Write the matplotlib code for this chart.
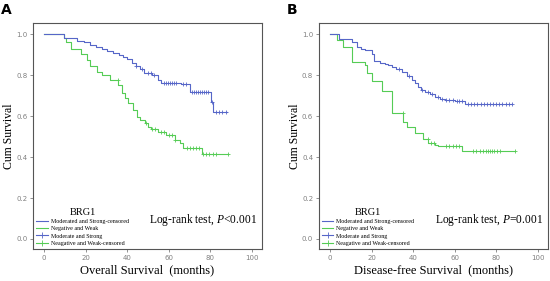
import numpy as np
import matplotlib
matplotlib.use("agg")
import matplotlib.pyplot as plt
from matplotlib.lines import Line2D

plt.rcParams["mathtext.fontset"] = "custom"
plt.rcParams["mathtext.rm"] = "Liberation Serif"
plt.rcParams["mathtext.it"] = "Liberation Serif:italic"

# ---- data (months, cumulative survival) ----
# panel A, overall survival
os_hi_t = [9.5, 16, 19, 22, 25, 28, 30, 33, 36, 38, 40, 42, 44, 46, 48, 52, 54.8, 56.4, 66, 70, 80.1, 81.3]
os_hi_s = [0.982, 0.967, 0.96, 0.95, 0.94, 0.93, 0.92, 0.91, 0.90, 0.89, 0.88, 0.86, 0.845, 0.83,
           0.81, 0.80, 0.776, 0.763, 0.755, 0.72, 0.67, 0.618]
os_hi_end = 88
os_hi_cens = [44, 47, 50, 51.5, 53, 57.5, 58.5, 59.5, 60.5, 61.5, 62.5, 63.5, 67, 68, 71, 72, 73,
              74, 75, 76, 77, 78, 79, 80.6, 82.5, 84, 85.5, 87.5]

os_lo_t = [9.5, 10.3, 12.7, 17.6, 20.4, 22, 25.2, 27.6, 31.6, 35.6, 37.2, 38.8, 40.4, 42.8, 44.7,
           46, 48.4, 50, 51.6, 54.8, 58.8, 62.8, 65.2, 66.8, 75.7]
os_lo_s = [0.98, 0.963, 0.93, 0.905, 0.873, 0.845, 0.816, 0.80, 0.776, 0.751, 0.711, 0.687, 0.663,
           0.63, 0.597, 0.58, 0.565, 0.548, 0.535, 0.523, 0.507, 0.483, 0.467, 0.442, 0.413]
os_lo_end = 88.5
os_lo_cens = [35.5, 49, 52, 53.5, 56, 57.5, 60, 61.5, 63, 68.5, 70, 71.5, 73, 74.5, 76.5, 78, 79.5,
              81, 82.5, 88.5]

# panel B, disease-free survival
dfs_hi_t = [4.3, 10.4, 12.8, 15, 16.8, 20, 21.3, 24, 26.5, 28, 29.7, 32, 34.5, 37, 39.3, 41, 42.5,
            44, 45.7, 48, 50.6, 53, 55.4, 60.2, 65]
dfs_hi_s = [0.979, 0.962, 0.938, 0.93, 0.922, 0.905, 0.868, 0.862, 0.857, 0.848, 0.84, 0.828, 0.816,
            0.795, 0.776, 0.76, 0.743, 0.73, 0.718, 0.706, 0.694, 0.686, 0.678, 0.672, 0.657]
dfs_hi_end = 87.8
dfs_hi_cens = [33, 38, 44.5, 47, 49, 52, 54, 56, 57.5, 59, 61, 62, 63.5, 66.5, 68, 69.5, 71, 72.5,
               74, 75.5, 77, 78.5, 80, 81.5, 83, 84.5, 86, 87.8]

dfs_lo_t = [3.2, 6.4, 10.4, 16.8, 17.6, 20, 24.9, 29.7, 35.3, 36.9, 40.9, 44.9, 47.3, 50.6, 52.1, 63.4]
dfs_lo_s = [0.97, 0.938, 0.865, 0.85, 0.81, 0.77, 0.722, 0.613, 0.572, 0.548, 0.516, 0.486, 0.467,
            0.459, 0.454, 0.429]
dfs_lo_end = 89.2
dfs_lo_cens = [35, 47, 48.5, 50, 56, 57.5, 59, 60.5, 62, 69, 70.5, 72, 73.5, 75, 76, 77, 78, 79,
               80.5, 82, 89.2]

panel_letters = ["A", "B"]
xlabels = ["Overall Survival  (months)", "Disease-free Survival  (months)"]
pvals = ["<0.001", "=0.001"]
legend_labels = ["Moderated and Strong-censored", "Negative and Weak",
                 "Moderate and Strong", "Neagative and Weak-censored"]

BLUE = "#5666c8"
GREEN = "#55cc55"
SERIF = "Liberation Serif"


def km(ax, t, s, end, cens, color):
    tt = np.r_[0, t, end]
    ss = np.r_[1.0, s, s[-1]]
    ax.step(tt, ss, where="post", color=color, lw=0.8)
    idx = np.searchsorted(tt, cens, side="right") - 1
    ax.plot(cens, ss[idx], ls="none", marker="+", ms=3, mew=0.6, color=color)


fig = plt.figure(figsize=(5.5, 2.81), dpi=100)
lefts = [0.06, 0.5795]
data = [(os_hi_t, os_hi_s, os_hi_end, os_hi_cens, os_lo_t, os_lo_s, os_lo_end, os_lo_cens),
        (dfs_hi_t, dfs_hi_s, dfs_hi_end, dfs_hi_cens, dfs_lo_t, dfs_lo_s, dfs_lo_end, dfs_lo_cens)]

for i in range(2):
    ax = fig.add_axes([lefts[i], 0.114, 0.416, 0.804])
    ht, hs, he, hc, lt, ls_, le, lc = data[i]
    km(ax, lt, ls_, le, lc, GREEN)
    km(ax, ht, hs, he, hc, BLUE)

    ax.set_xlim(-5.4, 104.7)
    ax.set_ylim(-0.049, 1.055)
    ax.set_xticks(np.arange(0, 101, 20))
    ax.set_yticks(np.arange(0, 1.01, 0.2))
    ax.yaxis.set_major_formatter(matplotlib.ticker.FormatStrFormatter("%.1f"))
    ax.tick_params(labelsize=5, colors="#808080", length=2, width=0.6, pad=2)
    for sp in ax.spines.values():
        sp.set_color("#555555")
        sp.set_linewidth(0.8)

    ax.set_xlabel(xlabels[i], family=SERIF, fontsize=9, labelpad=3)
    ax.set_ylabel("Cum Survival", family=SERIF, fontsize=8.5, labelpad=1)

    ax.text(102.6, 0.093, "Log-rank test, $\\it{P}$" + pvals[i], family=SERIF,
            fontsize=8.3, ha="right", va="center")

    handles = [Line2D([], [], color=BLUE, lw=0.8),
               Line2D([], [], color=GREEN, lw=0.8),
               Line2D([], [], color=BLUE, lw=0.8, marker="+", ms=4, mew=0.6),
               Line2D([], [], color=GREEN, lw=0.8, marker="+", ms=4, mew=0.6)]
    leg = ax.legend(handles, legend_labels, loc="lower left", bbox_to_anchor=(0.0, 0.0),
                    frameon=False, title="BRG1", handlelength=1.9, handletextpad=0.5,
                    labelspacing=0.32, borderaxespad=0.25, borderpad=0.3,
                    prop={"family": SERIF, "size": 4.3},
                    title_fontproperties={"family": SERIF, "size": 7.5})

    fig.text(lefts[i] - 0.058, 0.99, panel_letters[i], fontsize=10, fontweight="bold",
             family="DejaVu Sans", va="top", ha="left")

fig.savefig("out.png", dpi=100)
